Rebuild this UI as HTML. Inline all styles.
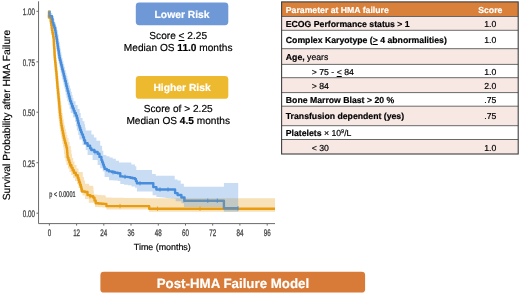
<!DOCTYPE html>
<html><head><meta charset="utf-8"><title>Post-HMA Failure Model</title>
<style>
html,body{margin:0;padding:0;background:#fff;}
body{width:520px;height:294px;position:relative;overflow:hidden;font-family:"Liberation Sans",Arial,sans-serif;color:#000;text-rendering:geometricPrecision;-webkit-font-smoothing:antialiased;-webkit-text-stroke:0.18px currentColor;}
svg{position:absolute;left:0;top:0;will-change:transform;}
#tx{position:absolute;left:0;top:0;width:520px;height:294px;will-change:transform;}
.pill{position:absolute;left:135.8px;width:92.5px;height:22.7px;color:#fff;font-weight:bold;font-size:10.3px;line-height:22.7px;text-align:center;white-space:nowrap;}
.cap{position:absolute;white-space:nowrap;font-size:10.15px;line-height:12px;text-align:center;width:140px;left:108.2px;}
.banner{position:absolute;left:100.7px;top:273.5px;width:264.5px;height:20px;color:#fff;font-weight:bold;font-size:13.3px;line-height:20px;text-align:center;white-space:nowrap;}
.ylab{position:absolute;left:7.6px;top:114.7px;width:0;height:0;}
.ylab span{position:absolute;white-space:nowrap;font-size:10.3px;line-height:10px;transform:translate(-50%,-50%) rotate(-90deg);left:0;top:0;display:block;}
.xlab{position:absolute;left:112.3px;width:100px;top:242.4px;text-align:center;font-size:8.9px;line-height:11px;white-space:nowrap;}
.t{position:absolute;white-space:nowrap;font-size:8.7px;line-height:10px;height:10px;}
.t.s{left:460.3px;width:60px;text-align:center;}
.w{color:#fff;}
u{text-decoration:underline;}
sup{font-size:5.5px;vertical-align:baseline;position:relative;top:-2.6px;}
</style></head><body>
<svg width="520" height="294" viewBox="0 0 520 294">
<path d="M49.2 11.5L49.0 11.5L49.0 14.6L48.9 14.6L48.9 17.6L50.7 17.6L50.7 21.4L51.0 21.4L51.0 23.6L51.4 23.6L51.4 25.8L51.7 25.8L51.7 28.0L52.0 28.0L52.0 30.2L52.4 30.2L52.4 32.4L52.8 32.4L52.8 34.6L53.2 34.6L53.2 36.8L53.6 36.8L53.6 39.0L53.8 39.0L53.8 41.4L53.9 41.4L53.9 43.7L54.0 43.7L54.0 46.1L54.2 46.1L54.2 48.5L54.4 48.5L54.4 50.8L54.5 50.8L54.5 53.2L54.6 53.2L54.6 55.5L54.8 55.5L54.8 57.9L55.0 57.9L55.0 60.2L55.2 60.2L55.2 62.4L55.5 62.4L55.5 64.7L55.7 64.7L55.7 67.0L55.9 67.0L55.9 69.2L56.1 69.2L56.1 71.5L56.4 71.5L56.4 73.7L56.6 73.7L56.6 76.0L56.8 76.0L56.8 78.5L57.0 78.5L57.0 81.0L57.2 81.0L57.2 83.6L57.4 83.6L57.4 86.1L57.6 86.1L57.6 88.6L57.9 88.6L57.9 91.1L58.1 91.1L58.1 93.6L58.4 93.6L58.4 96.2L58.6 96.2L58.6 98.7L58.9 98.7L58.9 101.2L59.1 101.2L59.1 103.6L59.3 103.6L59.3 105.9L59.5 105.9L59.5 108.3L59.7 108.3L59.7 110.6L59.9 110.6L59.9 113.0L60.2 113.0L60.2 115.5L60.5 115.5L60.5 118.0L60.8 118.0L60.8 120.6L61.1 120.6L61.1 123.1L61.4 123.1L61.4 125.6L61.9 125.6L61.9 128.1L62.4 128.1L62.4 130.6L62.9 130.6L62.9 133.2L63.4 133.2L63.4 135.7L63.9 135.7L63.9 138.2L64.5 138.2L64.5 140.6L65.1 140.6L65.1 142.9L65.8 142.9L65.8 145.3L66.4 145.3L66.4 147.6L67.0 147.6L67.0 150.0L67.2 150.0L67.2 152.5L67.4 152.5L67.4 155.1L67.6 155.1L67.6 157.6L68.4 157.6L68.4 160.1L69.3 160.1L69.3 162.6L70.1 162.6L70.1 165.1L71.4 165.1L71.4 167.6L72.6 167.6L72.6 170.2L73.9 170.2L73.9 172.7L75.8 172.7L75.8 175.2L77.7 175.2L77.7 177.7L78.5 177.7L78.5 180.0L79.2 180.0L79.2 182.3L80.0 182.3L80.0 184.7L80.8 184.7L80.8 187.0L81.4 187.0L81.4 189.2L82.0 189.2L82.0 191.5L85.0 191.5L85.0 192.0L87.5 192.0L87.5 195.1L90.3 195.1L90.3 196.3L93.2 196.3L93.2 197.6L94.5 197.6L94.5 200.4L95.7 200.4L95.7 203.3L98.4 203.3L98.4 203.5L101.2 203.5L101.2 203.7L103.9 203.7L103.9 203.9L106.4 203.9L106.4 206.1L148.0 206.1L149.2 206.1L149.2 208.7L275.0 208.7" fill="none" stroke="#e79c12" stroke-width="2.4" stroke-linejoin="round"/>
<path d="M49.4 11.5L49.5 11.5L49.5 13.9L49.5 13.9L49.5 16.3L52.0 16.3L52.0 19.0L52.6 19.0L52.6 22.6L53.4 22.6L53.4 25.1L54.3 25.1L54.3 27.7L55.1 27.7L55.1 30.2L55.5 30.2L55.5 32.4L55.9 32.4L55.9 34.6L56.2 34.6L56.2 36.8L56.6 36.8L56.6 39.0L57.0 39.0L57.0 41.4L57.3 41.4L57.3 43.7L57.7 43.7L57.7 46.1L58.0 46.1L58.0 48.5L58.4 48.5L58.4 50.8L58.8 50.8L58.8 53.2L59.1 53.2L59.1 55.5L59.5 55.5L59.5 57.9L60.0 57.9L60.0 60.2L60.6 60.2L60.6 62.4L61.1 62.4L61.1 64.7L61.7 64.7L61.7 67.0L62.2 67.0L62.2 69.2L62.8 69.2L62.8 71.5L63.4 71.5L63.4 73.7L63.9 73.7L63.9 76.0L64.5 76.0L64.5 78.5L65.1 78.5L65.1 81.0L65.8 81.0L65.8 83.6L66.4 83.6L66.4 86.1L67.0 86.1L67.0 88.6L67.6 88.6L67.6 91.1L68.3 91.1L68.3 93.6L68.9 93.6L68.9 96.2L69.6 96.2L69.6 98.7L70.2 98.7L70.2 101.2L71.1 101.2L71.1 103.6L72.0 103.6L72.0 105.9L72.8 105.9L72.8 108.3L73.7 108.3L73.7 110.6L74.6 110.6L74.6 113.0L75.8 113.0L75.8 115.5L76.9 115.5L76.9 118.0L77.5 118.0L77.5 120.5L78.2 120.5L78.2 123.1L78.8 123.1L78.8 125.6L79.6 125.6L79.6 127.8L80.3 127.8L80.3 130.0L81.1 130.0L81.1 132.2L81.9 132.2L81.9 134.4L83.0 134.4L83.0 137.3L84.0 137.3L84.0 140.3L85.1 140.3L85.1 143.2L87.6 143.2L87.6 145.7L90.1 145.7L90.1 148.2L91.3 148.2L91.3 150.0L94.4 150.0L94.4 151.9L97.6 151.9L97.6 153.8L99.5 153.8L99.5 156.9L101.4 156.9L101.4 160.1L102.2 160.1L102.2 162.3L103.0 162.3L103.0 164.5L103.8 164.5L103.8 166.7L104.6 166.7L104.6 168.9L106.8 168.9L106.8 170.2L109.0 170.2L109.0 171.4L111.9 171.4L111.9 172.0L114.9 172.0L114.9 172.7L117.8 172.7L117.8 173.3L120.3 173.3L120.3 176.4L122.8 176.4L122.8 176.6L125.4 176.6L125.4 176.9L127.9 176.9L127.9 177.1L130.3 177.1L130.3 177.7L132.6 177.7L132.6 178.3L135.0 178.3L135.0 178.9L135.9 178.9L135.9 181.1L136.9 181.1L136.9 183.3L151.4 183.3L153.3 183.3L153.3 187.1L156.4 187.1L156.4 189.5L174.4 189.5L175.1 189.5L175.1 193.1L177.6 193.1L177.6 195.0L181.4 195.0L181.4 197.5L184.5 197.5L184.5 200.7L223.9 200.7L223.9 208.3L238.2 208.3" fill="none" stroke="#488ddc" stroke-width="2.4" stroke-linejoin="round"/>
<path d="M49.2 10.8L50.2 10.8L50.2 16.0L51.9 16.0L51.9 21.4L52.5 21.4L52.5 25.8L53.2 25.8L53.2 30.2L54.0 30.2L54.0 34.6L54.9 34.6L54.9 39.0L55.1 39.0L55.1 42.1L55.3 42.1L55.3 45.3L55.5 45.3L55.5 48.5L55.8 48.5L55.8 51.6L56.0 51.6L56.0 54.8L56.2 54.8L56.2 57.9L56.5 57.9L56.5 60.9L56.8 60.9L56.8 63.9L57.2 63.9L57.2 67.0L57.5 67.0L57.5 70.0L57.8 70.0L57.8 73.0L58.1 73.0L58.1 76.0L58.4 76.0L58.4 79.2L58.7 79.2L58.7 82.3L59.0 82.3L59.0 85.4L59.3 85.4L59.3 88.6L59.7 88.6L59.7 91.8L60.0 91.8L60.0 94.9L60.4 94.9L60.4 98.0L60.8 98.0L60.8 101.2L61.2 101.2L61.2 105.1L61.7 105.1L61.7 109.1L62.1 109.1L62.1 113.0L62.6 113.0L62.6 116.2L63.2 116.2L63.2 119.3L63.7 119.3L63.7 122.4L64.2 122.4L64.2 125.6L65.0 125.6L65.0 128.8L65.8 128.8L65.8 131.9L66.5 131.9L66.5 135.0L67.3 135.0L67.3 138.2L68.5 138.2L68.5 142.1L69.6 142.1L69.6 146.1L70.8 146.1L70.8 150.0L71.4 150.0L71.4 154.0L72.0 154.0L72.0 158.0L73.2 158.0L73.2 161.5L74.5 161.5L74.5 165.0L76.5 165.0L76.5 168.5L78.5 168.5L78.5 172.0L82.8 172.0L82.8 177.0L83.9 177.0L83.9 180.4L85.0 180.4L85.0 183.8L89.1 183.8L89.1 185.7L93.2 185.7L93.2 187.6L93.5 187.6L93.5 191.1L93.8 191.1L93.8 194.5L97.6 194.5L97.6 194.9L101.4 194.9L101.4 195.3L105.2 195.3L105.2 195.7L105.8 195.7L105.8 197.6L108.8 197.6L108.8 197.6L111.8 197.6L111.8 197.7L114.8 197.7L114.8 197.7L117.9 197.7L117.9 197.8L120.9 197.8L120.9 197.8L123.9 197.8L123.9 197.9L126.9 197.9L126.9 197.9L129.9 197.9L129.9 197.9L132.9 197.9L132.9 198.0L135.9 198.0L135.9 198.0L139.0 198.0L139.0 198.1L142.0 198.1L142.0 198.1L145.0 198.1L145.0 198.2L148.0 198.2L148.0 198.2L275.0 198.2L275.0 211.8L149.0 211.8L149.0 209.6L148.0 209.6L106.4 209.6L106.4 207.7L105.8 207.7L105.8 207.5L102.2 207.5L102.2 207.2L98.6 207.2L98.6 207.0L95.0 207.0L95.0 203.3L94.4 203.3L94.4 202.7L88.8 202.7L88.8 198.9L85.0 198.9L85.0 195.4L82.5 195.4L82.5 192.0L80.0 192.0L80.0 188.0L78.5 188.0L78.5 184.0L77.0 184.0L77.0 181.0L75.0 181.0L75.0 178.0L73.0 178.0L73.0 175.0L71.2 175.0L71.2 172.0L69.5 172.0L69.5 168.5L68.0 168.5L68.0 165.0L66.5 165.0L66.5 161.5L65.5 161.5L65.5 158.0L64.5 158.0L64.5 154.0L64.0 154.0L64.0 150.0L63.6 150.0L63.6 147.0L63.0 147.0L63.0 144.0L62.4 144.0L62.4 141.0L61.8 141.0L61.8 138.0L61.2 138.0L61.2 134.9L60.7 134.9L60.7 131.8L60.2 131.8L60.2 128.7L59.7 128.7L59.7 125.6L59.2 125.6L59.2 122.4L58.9 122.4L58.9 119.3L58.5 119.3L58.5 116.2L58.2 116.2L58.2 113.0L57.9 113.0L57.9 109.1L57.6 109.1L57.6 105.1L57.4 105.1L57.4 101.2L57.1 101.2L57.1 98.0L56.8 98.0L56.8 94.9L56.5 94.9L56.5 91.8L56.3 91.8L56.3 88.6L56.0 88.6L56.0 85.4L55.8 85.4L55.8 82.3L55.5 82.3L55.5 79.2L55.3 79.2L55.3 76.0L55.1 76.0L55.1 73.0L54.8 73.0L54.8 70.0L54.5 70.0L54.5 67.0L54.2 67.0L54.2 63.9L54.0 63.9L54.0 60.9L53.7 60.9L53.7 57.9L53.4 57.9L53.4 54.8L53.2 54.8L53.2 51.6L53.0 51.6L53.0 48.5L52.8 48.5L52.8 45.3L52.7 45.3L52.7 42.1L52.5 42.1L52.5 39.0L52.3 39.0L52.3 34.6L51.5 34.6L51.5 30.2L50.8 30.2L50.8 25.8L50.2 25.8L50.2 21.4L49.6 21.4L49.6 17.6L48.2 17.6L48.2 14.0L48.6 14.0Z" fill="#e79c12" fill-opacity="0.3"/>
<path d="M49.4 10.8L51.0 10.8L51.0 13.0L52.3 13.0L52.3 16.0L53.6 16.0L53.6 19.0L54.4 19.0L54.4 22.6L55.7 22.6L55.7 26.4L57.0 26.4L57.0 30.2L57.8 30.2L57.8 34.6L58.6 34.6L58.6 39.0L59.1 39.0L59.1 42.1L59.7 42.1L59.7 45.3L60.2 45.3L60.2 48.5L60.7 48.5L60.7 51.6L61.3 51.6L61.3 54.8L61.8 54.8L61.8 57.9L62.6 57.9L62.6 60.9L63.4 60.9L63.4 63.9L64.2 63.9L64.2 67.0L64.9 67.0L64.9 70.0L65.7 70.0L65.7 73.0L66.5 73.0L66.5 76.0L67.4 76.0L67.4 79.2L68.2 79.2L68.2 82.3L69.1 82.3L69.1 85.4L70.0 85.4L70.0 88.6L70.9 88.6L70.9 91.8L71.8 91.8L71.8 94.9L72.6 94.9L72.6 98.0L73.5 98.0L73.5 101.2L75.5 101.2L75.5 105.1L77.6 105.1L77.6 109.1L79.6 109.1L79.6 113.0L80.7 113.0L80.7 118.0L82.6 118.0L82.6 121.2L84.4 121.2L84.4 124.3L85.1 124.3L85.1 127.4L85.7 127.4L85.7 130.6L91.4 130.6L91.4 134.4L93.9 134.4L93.9 137.6L96.4 137.6L96.4 140.7L100.2 140.7L100.2 145.7L102.1 145.7L102.1 150.7L103.3 150.7L103.3 155.0L106.4 155.0L106.4 156.3L109.6 156.3L109.6 157.5L112.7 157.5L112.7 158.8L115.8 158.8L115.8 160.7L119.0 160.7L119.0 162.6L127.9 162.6L131.4 162.6L131.4 164.4L135.0 164.4L135.0 166.3L136.3 166.3L136.3 170.1L151.4 170.1L152.0 170.1L152.0 173.9L155.8 173.9L155.8 175.7L174.0 175.7L174.7 175.7L174.7 179.5L177.6 179.5L177.6 180.5L180.7 180.5L180.7 183.7L183.9 183.7L183.9 186.8L223.9 186.8L223.9 183.0L238.2 183.0L238.2 211.8L223.9 211.8L223.9 207.0L183.9 207.0L183.9 203.2L181.4 203.2L181.4 201.3L175.7 201.3L175.7 198.8L174.4 198.8L174.4 198.5L171.4 198.5L171.4 198.2L168.4 198.2L168.4 197.9L165.4 197.9L165.4 197.6L162.4 197.6L162.4 197.3L159.4 197.3L159.4 197.0L156.4 197.0L156.4 195.3L152.6 195.3L152.6 191.5L151.4 191.5L136.9 191.5L136.9 187.7L135.0 187.7L135.0 186.5L131.4 186.5L131.4 185.3L127.9 185.3L127.9 184.7L124.1 184.7L124.1 184.0L120.3 184.0L120.3 180.9L117.8 180.9L117.8 180.6L113.4 180.6L113.4 180.2L109.0 180.2L109.0 177.1L104.6 177.1L104.6 171.4L102.7 171.4L102.7 168.2L100.2 168.2L100.2 165.1L97.6 165.1L97.6 160.1L92.6 160.1L92.6 155.0L87.6 155.0L87.6 150.0L85.7 150.0L85.7 145.1L82.6 145.1L82.6 139.4L79.4 139.4L79.4 135.0L78.2 135.0L78.2 130.6L76.9 130.6L76.9 126.2L76.0 126.2L76.0 121.8L75.0 121.8L75.0 117.4L72.9 117.4L72.9 113.0L70.8 113.0L70.8 109.1L69.6 109.1L69.6 105.1L68.5 105.1L68.5 101.2L67.3 101.2L67.3 98.0L66.5 98.0L66.5 94.9L65.8 94.9L65.8 91.8L65.0 91.8L65.0 88.6L64.3 88.6L64.3 85.4L63.6 85.4L63.6 82.3L62.8 82.3L62.8 79.2L62.1 79.2L62.1 76.0L61.4 76.0L61.4 73.0L60.7 73.0L60.7 70.0L60.1 70.0L60.1 67.0L59.4 67.0L59.4 63.9L58.7 63.9L58.7 60.9L58.1 60.9L58.1 57.9L57.4 57.9L57.4 54.8L57.0 54.8L57.0 51.6L56.5 51.6L56.5 48.5L56.0 48.5L56.0 45.3L55.6 45.3L55.6 42.1L55.2 42.1L55.2 39.0L54.7 39.0L54.7 34.6L54.0 34.6L54.0 30.2L53.3 30.2L53.3 26.4L52.1 26.4L52.1 22.6L50.9 22.6L50.9 19.0L49.5 19.0L49.5 14.0L49.4 14.0Z" fill="#488ddc" fill-opacity="0.3"/>
<path d="M53.0 33.5V37.9M55.0 57.7V62.1M56.0 67.8V72.2M58.0 90.3V94.7M62.0 126.4V130.8M70.0 162.6V167.0M90.0 194.0V198.4M120.0 203.9V208.3M157.5 206.5V210.9M200.0 206.5V210.9" stroke="#e79c12" stroke-width="0.9" fill="none"/>
<path d="M58.0 45.9V50.3M60.5 59.8V64.2M62.0 66.0V70.4M66.0 82.3V86.7M72.0 103.8V108.2M80.0 126.8V131.2M95.0 150.0V154.4M113.0 170.1V174.5M125.0 174.6V179.0M140.0 181.1V185.5M160.0 187.3V191.7M168.0 187.3V191.7M183.9 197.9V202.3M207.8 198.5V202.9M217.3 198.5V202.9M238.0 206.1V210.5" stroke="#488ddc" stroke-width="0.9" fill="none"/>
<g stroke="#6b6b6b" stroke-width="1" fill="none">
<path d="M38.55 1.3V223.6H275"/>
<path d="M49.4 223.6v2.0"/><path d="M76.6 223.6v2.0"/><path d="M103.8 223.6v2.0"/><path d="M131.0 223.6v2.0"/><path d="M158.3 223.6v2.0"/><path d="M185.5 223.6v2.0"/><path d="M212.7 223.6v2.0"/><path d="M239.9 223.6v2.0"/><path d="M267.2 223.6v2.0"/><path d="M36.4 11.3h2.1"/><path d="M36.4 61.8h2.1"/><path d="M36.4 112.2h2.1"/><path d="M36.4 162.7h2.1"/><path d="M36.4 213.2h2.1"/>
</g>
<g font-family="Liberation Sans, Arial, sans-serif" font-size="9.5" fill="#444" stroke="#444" stroke-width="0.3">
<text x="49.4" y="235.8" text-anchor="middle" transform="translate(49.4 0) scale(0.655 1) translate(-49.4 0)">0</text><text x="76.6" y="235.8" text-anchor="middle" transform="translate(76.6 0) scale(0.655 1) translate(-76.6 0)">12</text><text x="103.8" y="235.8" text-anchor="middle" transform="translate(103.8 0) scale(0.655 1) translate(-103.8 0)">24</text><text x="131.0" y="235.8" text-anchor="middle" transform="translate(131.0 0) scale(0.655 1) translate(-131.0 0)">36</text><text x="158.3" y="235.8" text-anchor="middle" transform="translate(158.3 0) scale(0.655 1) translate(-158.3 0)">48</text><text x="185.5" y="235.8" text-anchor="middle" transform="translate(185.5 0) scale(0.655 1) translate(-185.5 0)">60</text><text x="212.7" y="235.8" text-anchor="middle" transform="translate(212.7 0) scale(0.655 1) translate(-212.7 0)">72</text><text x="239.9" y="235.8" text-anchor="middle" transform="translate(239.9 0) scale(0.655 1) translate(-239.9 0)">84</text><text x="267.2" y="235.8" text-anchor="middle" transform="translate(267.2 0) scale(0.655 1) translate(-267.2 0)">96</text><text x="34.9" y="15.3" text-anchor="end" transform="translate(34.9 0) scale(0.655 1) translate(-34.9 0)">1.00</text><text x="34.9" y="65.8" text-anchor="end" transform="translate(34.9 0) scale(0.655 1) translate(-34.9 0)">0.75</text><text x="34.9" y="116.2" text-anchor="end" transform="translate(34.9 0) scale(0.655 1) translate(-34.9 0)">0.50</text><text x="34.9" y="166.7" text-anchor="end" transform="translate(34.9 0) scale(0.655 1) translate(-34.9 0)">0.25</text><text x="34.9" y="217.2" text-anchor="end" transform="translate(34.9 0) scale(0.655 1) translate(-34.9 0)">0.00</text>
<text x="49.3" y="197" transform="translate(49.3 0) scale(0.66 1) translate(-49.3 0)" fill="#1a1a1a" stroke="#1a1a1a" stroke-width="0.2" font-size="8.4">p &lt; 0.0001</text>
</g>
<rect x="135.8" y="2.5" width="92.5" height="22.7" rx="3.4" fill="#6f99d6"/>
<rect x="135.8" y="76.0" width="92.5" height="22.8" rx="3.4" fill="#ecb92f"/>
<rect x="100.4" y="271.8" width="264.7" height="20.8" rx="3.4" fill="#d87b38"/>
<rect x="281.6" y="1.9" width="236.6" height="14.6" fill="#d9803a"/><rect x="281.6" y="16.5" width="236.6" height="13.8" fill="#f7e8e4"/><rect x="281.6" y="30.3" width="236.6" height="18.4" fill="#ffffff"/><rect x="281.6" y="48.7" width="236.6" height="15.7" fill="#f7e8e4"/><rect x="281.6" y="64.4" width="236.6" height="13.3" fill="#ffffff"/><rect x="281.6" y="77.7" width="236.6" height="14.9" fill="#f7e8e4"/><rect x="281.6" y="92.6" width="236.6" height="13.6" fill="#ffffff"/><rect x="281.6" y="106.2" width="236.6" height="19.5" fill="#f7e8e4"/><rect x="281.6" y="125.7" width="236.6" height="13.8" fill="#ffffff"/><rect x="281.6" y="139.5" width="236.6" height="14.5" fill="#f7e8e4"/>
<g stroke="#5a5a5a" stroke-width="0.9" fill="none"><path d="M281.6 16.5H518.2"/><path d="M281.6 30.3H518.2"/><path d="M281.6 48.7H518.2"/><path d="M281.6 64.4H518.2"/><path d="M281.6 77.7H518.2"/><path d="M281.6 92.6H518.2"/><path d="M281.6 106.2H518.2"/><path d="M281.6 125.7H518.2"/><path d="M281.6 139.5H518.2"/></g>
<rect x="281.6" y="1.9" width="236.6" height="152.1" fill="none" stroke="#3f3f3f" stroke-width="1.1"/>
</svg>
<div id="tx">
<div class="ylab"><span>Survival Probability after HMA Failure</span></div>
<div class="xlab">Time (months)</div>
<div class="pill" style="top:4.6px">Lower Risk</div>
<div class="cap" style="top:30.5px">Score <u>&lt;</u> 2.25<br>Median OS <b>11.0</b> months</div>
<div class="pill" style="top:78.3px">Higher Risk</div>
<div class="cap" style="top:103.9px">Score of &gt; 2.25<br>Median OS <b>4.5</b> months</div>
<div class="t" style="top:4.6px;left:285.8px"><b class="w">Parameter at HMA failure</b></div><div class="t s" style="top:4.6px"><b class="w">Score</b></div><div class="t" style="top:18.8px;left:285.8px"><b>ECOG Performance status &gt; 1</b></div><div class="t s" style="top:18.8px">1.0</div><div class="t" style="top:34.6px;left:285.8px"><b>Complex Karyotype (<u>&gt;</u> 4 abnormalities)</b></div><div class="t s" style="top:34.6px">1.0</div><div class="t" style="top:51.6px;left:285.8px"><b>Age,</b> years</div><div class="t" style="top:66.5px;left:311.8px">&gt; 75 - <u>&lt;</u> 84</div><div class="t s" style="top:66.5px">1.0</div><div class="t" style="top:80.8px;left:311.8px">&gt; 84</div><div class="t s" style="top:80.8px">2.0</div><div class="t" style="top:94.6px;left:285.8px"><b>Bone Marrow Blast &gt; 20 %</b></div><div class="t s" style="top:94.6px">.75</div><div class="t" style="top:111.0px;left:285.8px"><b>Transfusion dependent (yes)</b></div><div class="t s" style="top:111.0px">.75</div><div class="t" style="top:127.7px;left:285.8px"><b>Platelets</b> × 10<sup>9</sup>/L</div><div class="t" style="top:142.6px;left:311.8px">&lt; 30</div><div class="t s" style="top:142.6px">1.0</div>
<div class="banner">Post-HMA Failure Model</div>
</div>
</body></html>
